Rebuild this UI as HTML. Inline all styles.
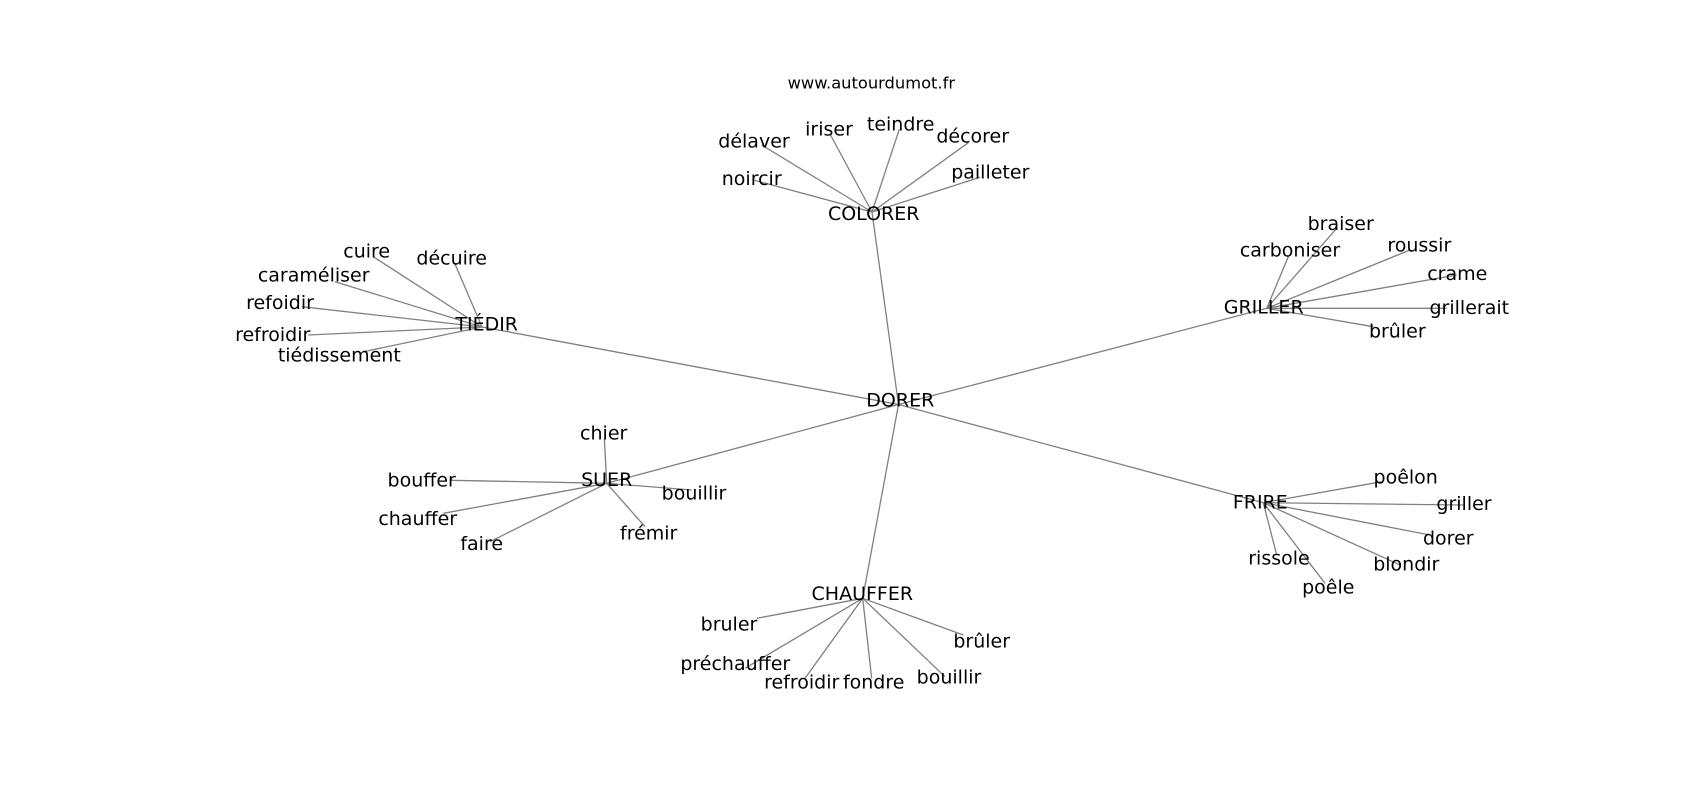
<!DOCTYPE html>
<html>
<head>
<meta charset="utf-8">
<style>
html,body{margin:0;padding:0;background:#fff;}
svg{display:block;}
text{font-family:"DejaVu Sans","Liberation Sans",sans-serif;fill:#000;}
.l{font-size:19px;text-anchor:middle;}
.t{font-size:16.3px;text-anchor:middle;}
line{stroke:#808080;stroke-width:1.3;}
</style>
</head>
<body>
<svg width="1700" height="800" viewBox="0 0 1700 800" xmlns="http://www.w3.org/2000/svg">
<rect width="1700" height="800" fill="#fff"/>
<g>
<!-- hub edges -->
<line x1="898.5" y1="404.5" x2="872" y2="212"/>
<line x1="898.5" y1="404.5" x2="482" y2="327"/>
<line x1="898.5" y1="404.5" x2="1266.7" y2="308.3"/>
<line x1="898.5" y1="404.5" x2="606.7" y2="483.3"/>
<line x1="898.5" y1="404.5" x2="1263.3" y2="502.7"/>
<line x1="898.5" y1="404.5" x2="862.7" y2="598.3"/>
<!-- COLORER -->
<line x1="872" y1="212" x2="761.7" y2="145"/>
<line x1="872" y1="212" x2="830" y2="134"/>
<line x1="872" y1="212" x2="899.3" y2="129.3"/>
<line x1="872" y1="212" x2="968.3" y2="142.7"/>
<line x1="872" y1="212" x2="753.3" y2="180"/>
<line x1="872" y1="212" x2="980" y2="177.3"/>
<!-- TIEDIR -->
<line x1="482" y1="327" x2="373.3" y2="256.7"/>
<line x1="482" y1="327" x2="455" y2="264"/>
<line x1="482" y1="327" x2="335" y2="281.7"/>
<line x1="482" y1="327" x2="301.7" y2="306.7"/>
<line x1="482" y1="327" x2="308.3" y2="335"/>
<line x1="482" y1="327" x2="363.3" y2="351.7"/>
<!-- GRILLER -->
<line x1="1266.7" y1="308.3" x2="1336.7" y2="228.3"/>
<line x1="1266.7" y1="308.3" x2="1288.3" y2="256.7"/>
<line x1="1266.7" y1="308.3" x2="1410" y2="250"/>
<line x1="1266.7" y1="308.3" x2="1456.7" y2="275"/>
<line x1="1266.7" y1="308.3" x2="1446.7" y2="308.3"/>
<line x1="1266.7" y1="308.3" x2="1373.3" y2="326.7"/>
<!-- SUER -->
<line x1="606.7" y1="483.3" x2="604.3" y2="438.3"/>
<line x1="606.7" y1="483.3" x2="450" y2="480.3"/>
<line x1="606.7" y1="483.3" x2="443.3" y2="513.3"/>
<line x1="606.7" y1="483.3" x2="490" y2="541.7"/>
<line x1="606.7" y1="483.3" x2="691.7" y2="490"/>
<line x1="606.7" y1="483.3" x2="645" y2="526.7"/>
<!-- FRIRE -->
<line x1="1263.3" y1="502.7" x2="1381.7" y2="481.7"/>
<line x1="1263.3" y1="502.7" x2="1463.3" y2="505"/>
<line x1="1263.3" y1="502.7" x2="1430" y2="535"/>
<line x1="1263.3" y1="502.7" x2="1400" y2="565"/>
<line x1="1263.3" y1="502.7" x2="1276.7" y2="555"/>
<line x1="1263.3" y1="502.7" x2="1325" y2="583.3"/>
<!-- CHAUFFER -->
<line x1="862.7" y1="598.3" x2="756.7" y2="618.3"/>
<line x1="862.7" y1="598.3" x2="745" y2="668.3"/>
<line x1="862.7" y1="598.3" x2="805" y2="678.3"/>
<line x1="862.7" y1="598.3" x2="871.7" y2="678.3"/>
<line x1="862.7" y1="598.3" x2="945" y2="676.7"/>
<line x1="862.7" y1="598.3" x2="963.3" y2="635"/>
</g>

<text class="t" x="871.3" y="88.3">www.autourdumot.fr</text>

<text class="l" x="900.3" y="406.7">DORER</text>
<text class="l" x="873.7" y="220">COLORER</text>
<text class="l" x="486.7" y="330.7">TIÉDIR</text>
<text class="l" x="1263.7" y="313.3">GRILLER</text>
<text class="l" x="606.7" y="486">SUER</text>
<text class="l" x="1260.3" y="508.3">FRIRE</text>
<text class="l" x="862.3" y="600">CHAUFFER</text>

<text class="l" x="754" y="147.3">délaver</text>
<text class="l" x="829" y="135.7">iriser</text>
<text class="l" x="900.7" y="130.7">teindre</text>
<text class="l" x="972.7" y="142.7">décorer</text>
<text class="l" x="751.7" y="185">noircir</text>
<text class="l" x="990.3" y="178.3">pailleter</text>

<text class="l" x="366.7" y="257.7">cuire</text>
<text class="l" x="451.7" y="264.3">décuire</text>
<text class="l" x="313.7" y="281.7">caraméliser</text>
<text class="l" x="280" y="309">refoidir</text>
<text class="l" x="272.7" y="341">refroidir</text>
<text class="l" x="339.3" y="361.7">tiédissement</text>

<text class="l" x="1340.7" y="230">braiser</text>
<text class="l" x="1290" y="256.7">carboniser</text>
<text class="l" x="1419.3" y="251.7">roussir</text>
<text class="l" x="1457.3" y="280">crame</text>
<text class="l" x="1469.3" y="314">grillerait</text>
<text class="l" x="1397.3" y="337.3">brûler</text>

<text class="l" x="603.7" y="439.3">chier</text>
<text class="l" x="421.7" y="486.7">bouffer</text>
<text class="l" x="417.7" y="525">chauffer</text>
<text class="l" x="481.7" y="550">faire</text>
<text class="l" x="694" y="499.3">bouillir</text>
<text class="l" x="648.7" y="539.3">frémir</text>

<text class="l" x="1405.7" y="483.3">poêlon</text>
<text class="l" x="1464" y="510">griller</text>
<text class="l" x="1448.3" y="544.3">dorer</text>
<text class="l" x="1406.3" y="570.7">blondir</text>
<text class="l" x="1279" y="564.3">rissole</text>
<text class="l" x="1328.3" y="593.3">poêle</text>

<text class="l" x="729" y="630.5">bruler</text>
<text class="l" x="735.3" y="670">préchauffer</text>
<text class="l" x="801.7" y="688.3">refroidir</text>
<text class="l" x="873.7" y="688.3">fondre</text>
<text class="l" x="949" y="683.3">bouillir</text>
<text class="l" x="981.7" y="647.3">brûler</text>
</svg>
</body>
</html>
